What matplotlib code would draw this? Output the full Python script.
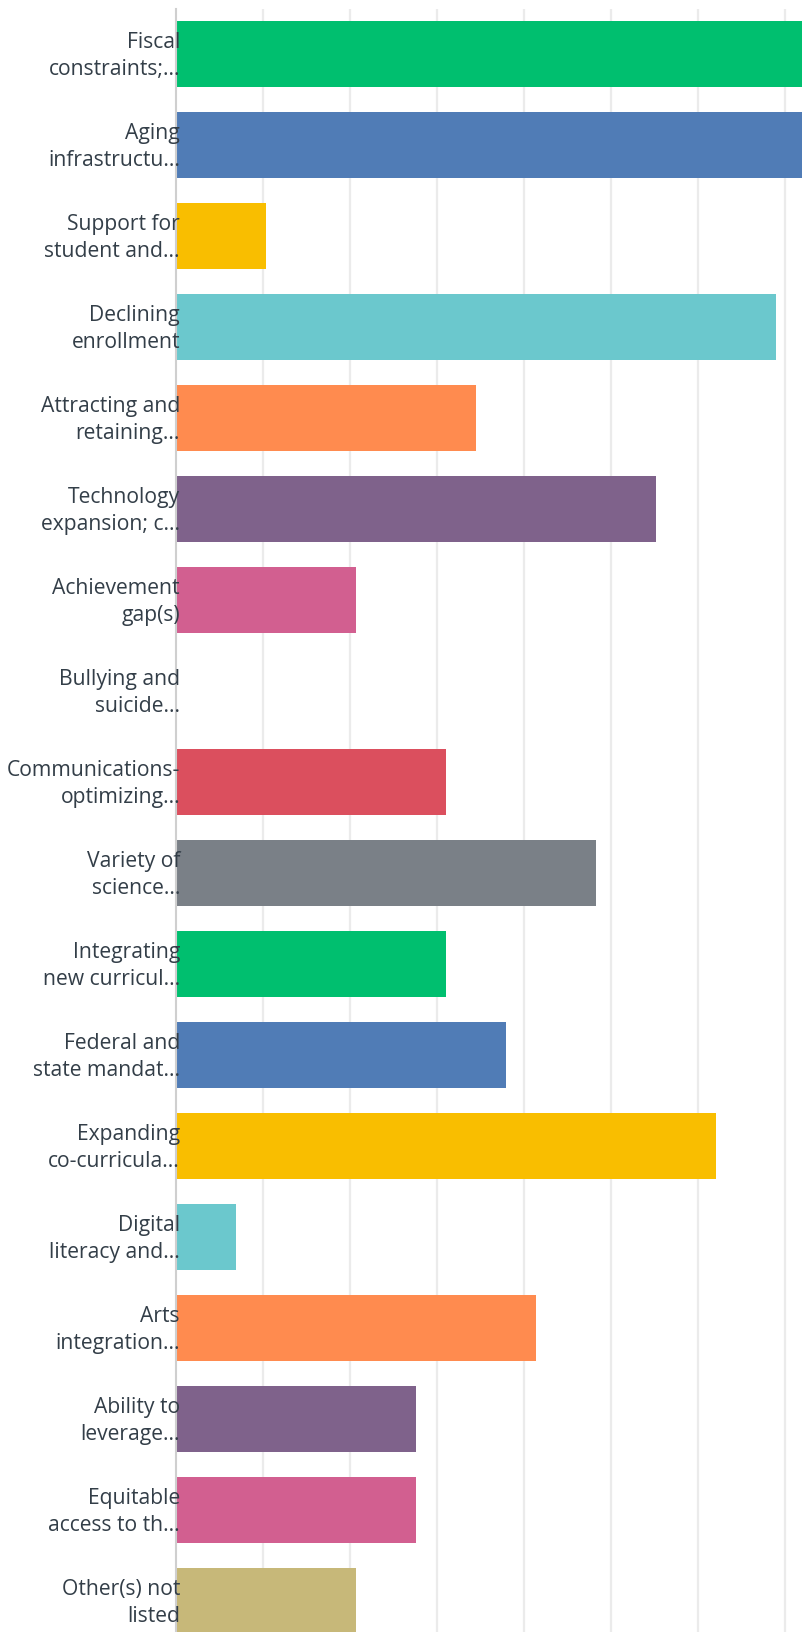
import numpy as np
import matplotlib
matplotlib.use('Agg')
import matplotlib.pyplot as plt
from matplotlib.transforms import offset_copy

# survey answers, 29 respondents, share in percent
labels = ['Fiscal\nconstraints;...', 'Aging\ninfrastructu...', 'Support for\nstudent and...',
          'Declining\nenrollment', 'Attracting and\nretaining...', 'Technology\nexpansion; c...',
          'Achievement\ngap(s)', 'Bullying and\nsuicide...', 'Communications-\noptimizing...',
          'Variety of\nscience...', 'Integrating\nnew curricul...', 'Federal and\nstate mandat...',
          'Expanding\nco-curricula...', 'Digital\nliteracy and...', 'Arts\nintegration...',
          'Ability to\nleverage...', 'Equitable\naccess to th...', 'Other(s) not\nlisted']
counts = [25, 23, 3, 20, 10, 16, 6, 0, 9, 14, 9, 11, 18, 2, 12, 8, 8, 6]
n_resp = 29
colors = ['#00bf6f', '#507cb6', '#f9be00', '#6bc8cd', '#ff8b4f', '#7f628b', '#d25f90',
          '#7d868c', '#db4f5e', '#7a8087', '#00bf6f', '#507cb6', '#f9be00', '#6bc8cd',
          '#ff8b4f', '#7f628b', '#d25f90', '#c7b879']

pct = np.array(counts) / n_resp * 100
ypos = np.arange(len(labels))

W, H = 802, 1632
fig = plt.figure(figsize=(W/100, H/100), dpi=100)
ax = fig.add_axes([176/W, 0, 1 - 176/W, 1 - 8.5/H])

ax.barh(ypos, pct, height=0.72, color=colors, linewidth=0, zorder=2)
ax.set_xlim(0, (W - 176) / 87 * 10)
ax.set_ylim((H - 54) / 91, -0.5)

# gridlines behind the bars
for gx in np.arange(10, 80, 10):
    ax.axvline(gx, color='#ebebeb', linewidth=1.6, zorder=0)
ax.set_xticks([])
ax.set_yticks([])

# category labels, drawn on top (they overlap the bar start a little)
lab_tr = offset_copy(ax.get_yaxis_transform(), fig, x=4, y=-2, units='dots')
for y, lab in zip(ypos, labels):
    ax.text(0, y, lab, transform=lab_tr, ha='right', va='center', ma='right',
            fontsize=15.2, color='#333e48', family=['Open Sans', 'DejaVu Sans'],
            linespacing=1.38, zorder=5, clip_on=False)

for s in ['top', 'right', 'bottom']:
    ax.spines[s].set_visible(False)
ax.spines['left'].set_color('#cfcfcf')
ax.spines['left'].set_linewidth(1.5)
ax.spines['left'].set_zorder(3)

fig.savefig('out.png', dpi=100)
